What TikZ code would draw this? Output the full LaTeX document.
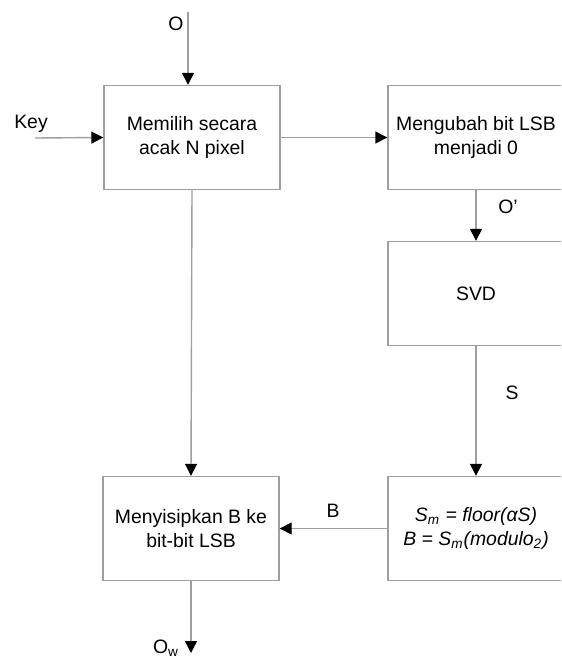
\documentclass[tikz,border=0pt]{standalone}
\usepackage{fontspec}
\setmainfont{Liberation Sans}
\usetikzlibrary{arrows.meta}

\begin{document}
\begin{tikzpicture}[x=0.5pt, y=-0.5pt, font=\fontsize{9.7}{12}\selectfont,
    blok/.style={draw=gray!75, line width=0.7pt, align=center, inner sep=0pt,
      minimum width=88pt, minimum height=52pt},
    panah/.style={draw=gray!75, line width=0.7pt,
      -{Triangle[length=6pt, width=6pt, color=black]}}]
  \useasboundingbox (0,0) rectangle (561,657);
  \clip (0,0) rectangle (561,657);
  % kotak proses
  \node[blok] (pilih) at (192,137.5) {Memilih secara\\acak N pixel};
  \node[blok] (ubah)  at (476,137.5) {Mengubah bit LSB\\menjadi 0};
  \node[blok] (svd)   at (476,293.5) {SVD};
  \node[blok] (rumus) at (476,528.5)
    {\itshape S\textsubscript{m} = floor(αS)\\\itshape B = S\textsubscript{m}(modulo\textsubscript{2})};
  \node[blok] (sisip) at (191,528.5) {Menyisipkan B ke\\bit-bit LSB};
  % ujung bebas
  \coordinate (masuk) at (188,12);
  \coordinate (kunci) at (35,138);
  \coordinate (keluar) at (191,653);
  % panah
  \draw[panah] (masuk) -- (masuk |- pilih.north);
  \draw[panah] (kunci) -- (pilih.west);
  \draw[panah] (pilih.east) -- (ubah.west);
  \draw[panah] (ubah.south) -- (svd.north);
  \draw[panah] (svd.south) -- (rumus.north);
  \draw[panah] (rumus.west) -- (sisip.east);
  \draw[panah] (pilih.south) -- (sisip.north);
  \draw[panah] (sisip.south) -- (keluar);
  % label
  \node (lO) at (176,24) {O};
  \node (lkey) at (31,124) {Key};
  \node (lO2) at (508,207) {O’};
  \node (lS) at (512,393) {S};
  \node (lB) at (333,511) {B};
  \node (lOw) at (166,648) {O\textsubscript{w}};
\end{tikzpicture}
\end{document}
